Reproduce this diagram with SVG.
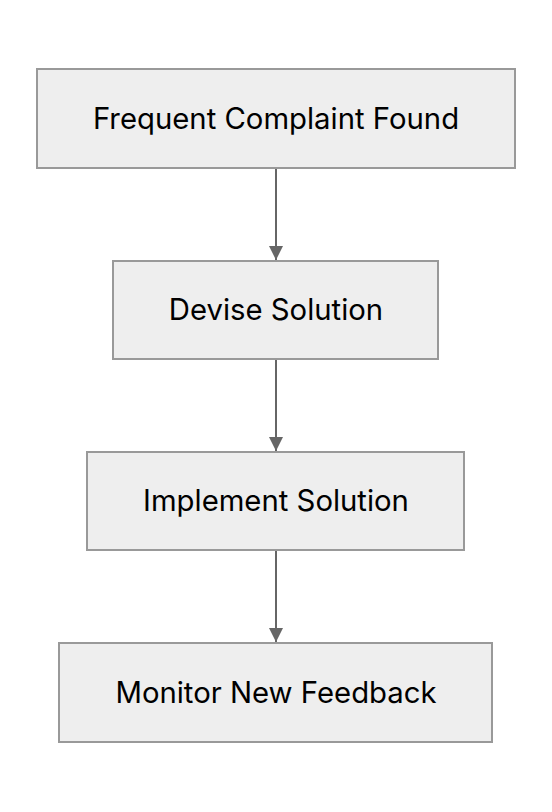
<svg xmlns="http://www.w3.org/2000/svg" width="552" height="812" viewBox="0 0 552 812">
<style>
.box{fill:#eeeeee;stroke:#999999;stroke-width:2}
.lbl{font-family:Inter,"Noto Sans",sans-serif;font-size:29.3px;fill:#000000;text-anchor:middle;dominant-baseline:central}
.edge{stroke:#666666;stroke-width:2;fill:none}
</style>
<defs>
<marker id="arr" viewBox="0 0 10 10" refX="10" refY="5" markerWidth="7" markerHeight="7" markerUnits="strokeWidth" orient="auto"><path d="M0,0 L10,5 L0,10 z" fill="#666666"/></marker>
</defs>
<rect width="552" height="812" fill="#ffffff"/>
<g id="connectors">
<line class="edge" x1="276" y1="168" x2="276" y2="260" marker-end="url(#arr)"/>
<line class="edge" x1="276" y1="359" x2="276" y2="451" marker-end="url(#arr)"/>
<line class="edge" x1="276" y1="550" x2="276" y2="642" marker-end="url(#arr)"/>
</g>
<g id="n1"><rect class="box" x="37" y="69" width="478" height="99"/><text class="lbl" x="276" y="118">Frequent Complaint Found</text></g>
<g id="n2"><rect class="box" x="113" y="261" width="325" height="98"/><text class="lbl" x="276" y="309">Devise Solution</text></g>
<g id="n3"><rect class="box" x="87" y="452" width="377" height="98"/><text class="lbl" x="276" y="500">Implement Solution</text></g>
<g id="n4"><rect class="box" x="59" y="643" width="433" height="99"/><text class="lbl" x="276" y="692">Monitor New Feedback</text></g>
</svg>
